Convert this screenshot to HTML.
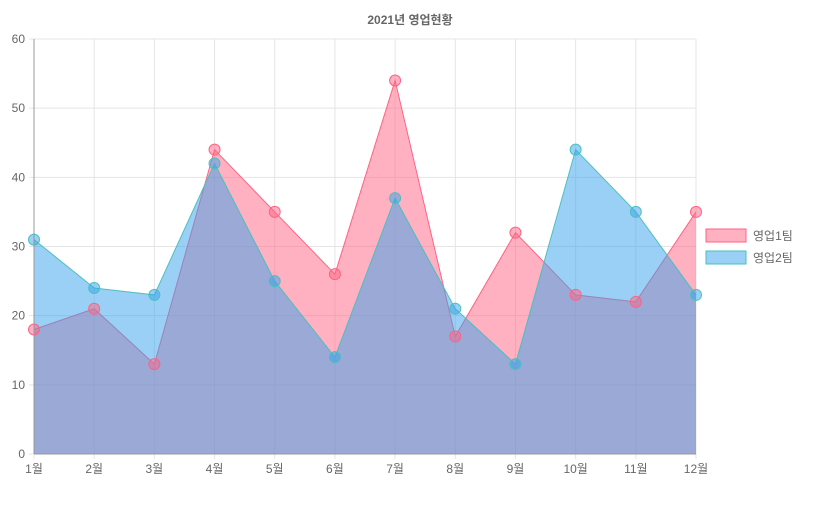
<!DOCTYPE html>
<html><head><meta charset="utf-8">
<style>
html,body{margin:0;padding:0;background:#fff;}
svg{display:block;font-family:"Liberation Sans","Noto Sans CJK KR",sans-serif;}
</style></head>
<body>
<svg id="chart" width="820" height="526" viewBox="0 0 820 526">
<text x="410" y="24" text-anchor="middle" font-size="12" font-weight="bold" fill="#666">2021년 영업현황</text>
<g id="grid"></g>
<g id="series"></g>
<g id="axes"></g>
<g>
<g>
<rect x="706" y="229" width="40" height="13" fill="rgba(255,99,132,0.5)" stroke="rgb(255,99,132)" stroke-width="1"/>
<text x="753" y="240" font-size="12" fill="#666">영업1팀</text></g>
<g>
<rect x="706" y="251" width="40" height="13" fill="rgba(54,162,235,0.5)" stroke="rgb(75,192,192)" stroke-width="1"/>
<text x="753" y="262" font-size="12" fill="#666">영업2팀</text></g>
</g>
</svg>
<script>
const categories=["1월","2월","3월","4월","5월","6월","7월","8월","9월","10월","11월","12월"];
const team1=[18,21,13,44,35,26,54,17,32,23,22,35];
const team2=[31,24,23,42,25,14,37,21,13,44,35,23];
const yTicks=[0,10,20,30,40,50,60];
const NS="http://www.w3.org/2000/svg";
const X0=34,X1=696,Y0=454,Y1=39,YMAX=60;
function xs(i){return X0+(X1-X0)*i/(categories.length-1);}
function ys(v){return Y0-(Y0-Y1)*v/YMAX;}
function mk(tag,attrs,parent){const e=document.createElementNS(NS,tag);for(const k in attrs)e.setAttribute(k,attrs[k]);parent.appendChild(e);return e;}
const grid=document.getElementById('grid'),axes=document.getElementById('axes'),series=document.getElementById('series');
yTicks.forEach(t=>{
 const l=mk('line',{x1:29,x2:X1,y1:ys(t),y2:ys(t),stroke:'#e5e5e5','stroke-width':1},grid);
 
 
 const tx=mk('text',{x:25,y:ys(t)+4,'text-anchor':'end','font-size':12,fill:'#666'},axes);
 tx.textContent=t;
 
 
});
categories.forEach((c,i)=>{
 const l=mk('line',{x1:xs(i),x2:xs(i),y1:Y1,y2:Y0+5,stroke:'#e5e5e5','stroke-width':1},grid);
 
 
 const tx=mk('text',{x:xs(i),y:Y0+19,'text-anchor':'middle','font-size':12,fill:'#666'},axes);
 tx.textContent=c;
 
 
});
const ya=mk('line',{x1:X0,x2:X0,y1:Y1,y2:Y0,stroke:'#999','stroke-width':1},axes);


const xa=mk('line',{x1:X0,x2:X1,y1:Y0,y2:Y0,stroke:'#999','stroke-width':1},axes);


function draw(data,fill,stroke,name){
 let d='M'+xs(0)+','+Y0;
 data.forEach((v,i)=>{d+=' L'+xs(i)+','+ys(v);});
 d+=' L'+xs(data.length-1)+','+Y0+' Z';
 const a=mk('path',{d:d,fill:fill,stroke:'none'},series);
 
 
 let ld='';
 data.forEach((v,i)=>{ld+=(i?' L':'M')+xs(i)+','+ys(v);});
 const ln=mk('path',{d:ld,fill:'none',stroke:stroke,'stroke-width':1},series);
 
 
 return ()=>data.forEach((v,i)=>{
  const p=mk('circle',{cx:xs(i),cy:ys(v),r:5.5,fill:fill,stroke:stroke,'stroke-width':1},series);
  
  
 });
}
const p1=draw(team1,'rgba(255,99,132,0.5)','rgb(255,99,132)','team1');
const p2=draw(team2,'rgba(54,162,235,0.5)','rgb(75,192,192)','team2');
p1();p2();
</script>
</body></html>
